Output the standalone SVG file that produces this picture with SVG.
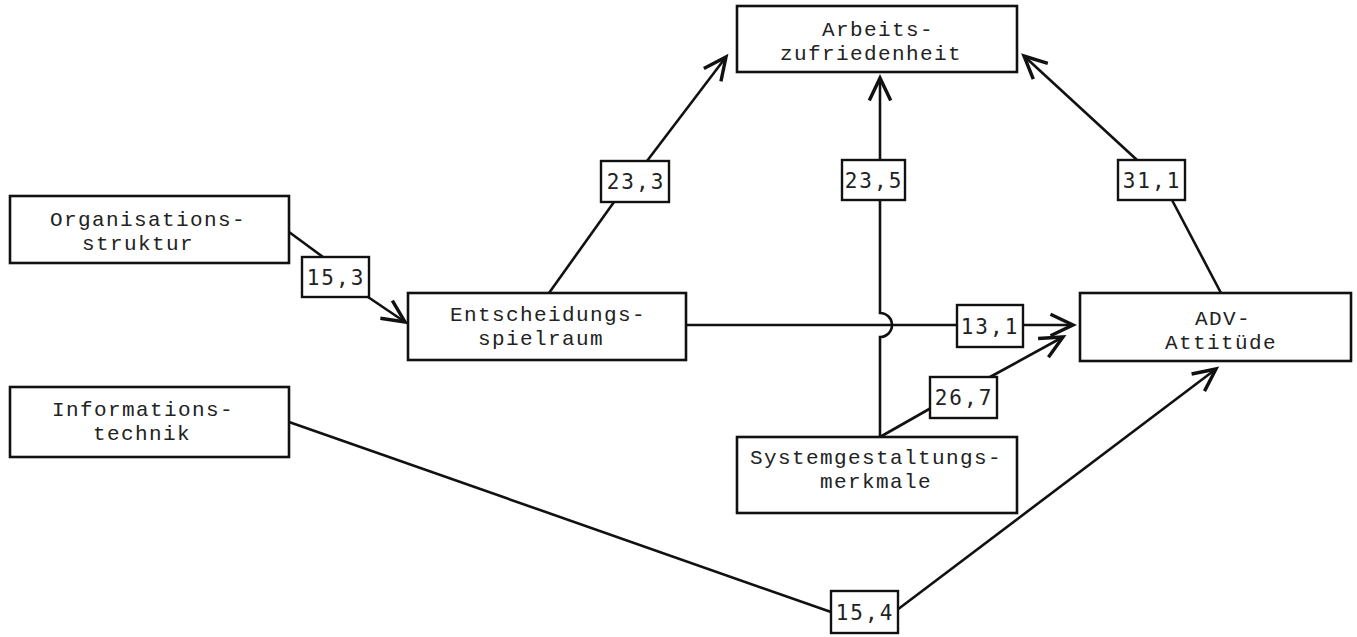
<svg xmlns="http://www.w3.org/2000/svg" width="1357" height="637" viewBox="0 0 1357 637">
<defs>
<style>
.box{fill:#fff;stroke:#111;stroke-width:2.6}
.lbl{fill:#fff;stroke:#111;stroke-width:2.4}
.t{font-family:"Liberation Mono","Courier New",monospace;font-size:21px;letter-spacing:1.4px;fill:#222}
.n{font-family:"DejaVu Sans Mono","Liberation Mono",monospace;font-size:21px;fill:#222;text-anchor:middle;letter-spacing:2px}
.c{fill:none;stroke:#111;stroke-width:2.6}
</style>
<marker id="ah" markerUnits="userSpaceOnUse" markerWidth="30" markerHeight="30" refX="0" refY="0" viewBox="-24 -13 28 26" orient="auto" overflow="visible">
<path d="M -21 -10 L 0 0 L -21 10" fill="none" stroke="#111" stroke-width="3.2"/>
</marker>
</defs>
<rect width="1357" height="637" fill="#fff"/>
<g id="connectors">
<path class="c" d="M289 232 L323 257"/>
<path class="c" d="M368 297 L405 322" marker-end="url(#ah)"/>
<path class="c" d="M549 293 L614 202"/>
<path class="c" d="M647 161 L726 57" marker-end="url(#ah)"/>
<path class="c" d="M880 437 L880 337 A12 12 0 0 0 880 313 L880 200"/>
<path class="c" d="M880 160 L880 78" marker-end="url(#ah)"/>
<path class="c" d="M686 325 L957 325"/>
<path class="c" d="M1023 325 L1073 325" marker-end="url(#ah)"/>
<path class="c" d="M880 437 L931 408"/>
<path class="c" d="M990 377 L1063 337" marker-end="url(#ah)"/>
<path class="c" d="M1221 293 L1172 200"/>
<path class="c" d="M1137 160 L1024 56" marker-end="url(#ah)"/>
<path class="c" d="M289 422 L831 612"/>
<path class="c" d="M897 610 L1216 369" marker-end="url(#ah)"/>
</g>
<g id="n-arbeit"><rect class="box" x="737" y="6" width="280" height="66"/><text class="t" x="822" y="36">Arbeits-</text><text class="t" x="780" y="60">zufriedenheit</text></g>
<g id="n-org"><rect class="box" x="10" y="196" width="279" height="67"/><text class="t" x="50" y="226">Organisations-</text><text class="t" x="82" y="250">struktur</text></g>
<g id="n-ent"><rect class="box" x="408" y="293" width="278" height="67"/><text class="t" x="450" y="321">Entscheidungs-</text><text class="t" x="478" y="345">spielraum</text></g>
<g id="n-adv"><rect class="box" x="1080" y="293" width="271" height="68"/><text class="t" x="1195" y="325">ADV-</text><text class="t" x="1165" y="349">Attitüde</text></g>
<g id="n-info"><rect class="box" x="10" y="387" width="279" height="70"/><text class="t" x="52" y="416">Informations-</text><text class="t" x="93" y="440">technik</text></g>
<g id="n-sys"><rect class="box" x="737" y="437" width="280" height="76"/><text class="t" x="750" y="464">Systemgestaltungs-</text><text class="t" x="820" y="488">merkmale</text></g>
<g id="labels">
<g id="l-153"><rect class="lbl" x="302" y="257" width="67" height="40"/><text class="n" x="336" y="285">15,3</text></g>
<g id="l-233"><rect class="lbl" x="601" y="161" width="68" height="41"/><text class="n" x="636" y="189">23,3</text></g>
<g id="l-235"><rect class="lbl" x="842" y="160" width="63" height="40"/><text class="n" x="874" y="188">23,5</text></g>
<g id="l-311"><rect class="lbl" x="1118" y="160" width="67" height="40"/><text class="n" x="1152" y="188">31,1</text></g>
<g id="l-131"><rect class="lbl" x="957" y="305" width="66" height="42"/><text class="n" x="990" y="334">13,1</text></g>
<g id="l-267"><rect class="lbl" x="930" y="377" width="67" height="41"/><text class="n" x="964" y="405">26,7</text></g>
<g id="l-154"><rect class="lbl" x="831" y="591" width="67" height="42"/><text class="n" x="865" y="620">15,4</text></g>
</g>
</svg>
